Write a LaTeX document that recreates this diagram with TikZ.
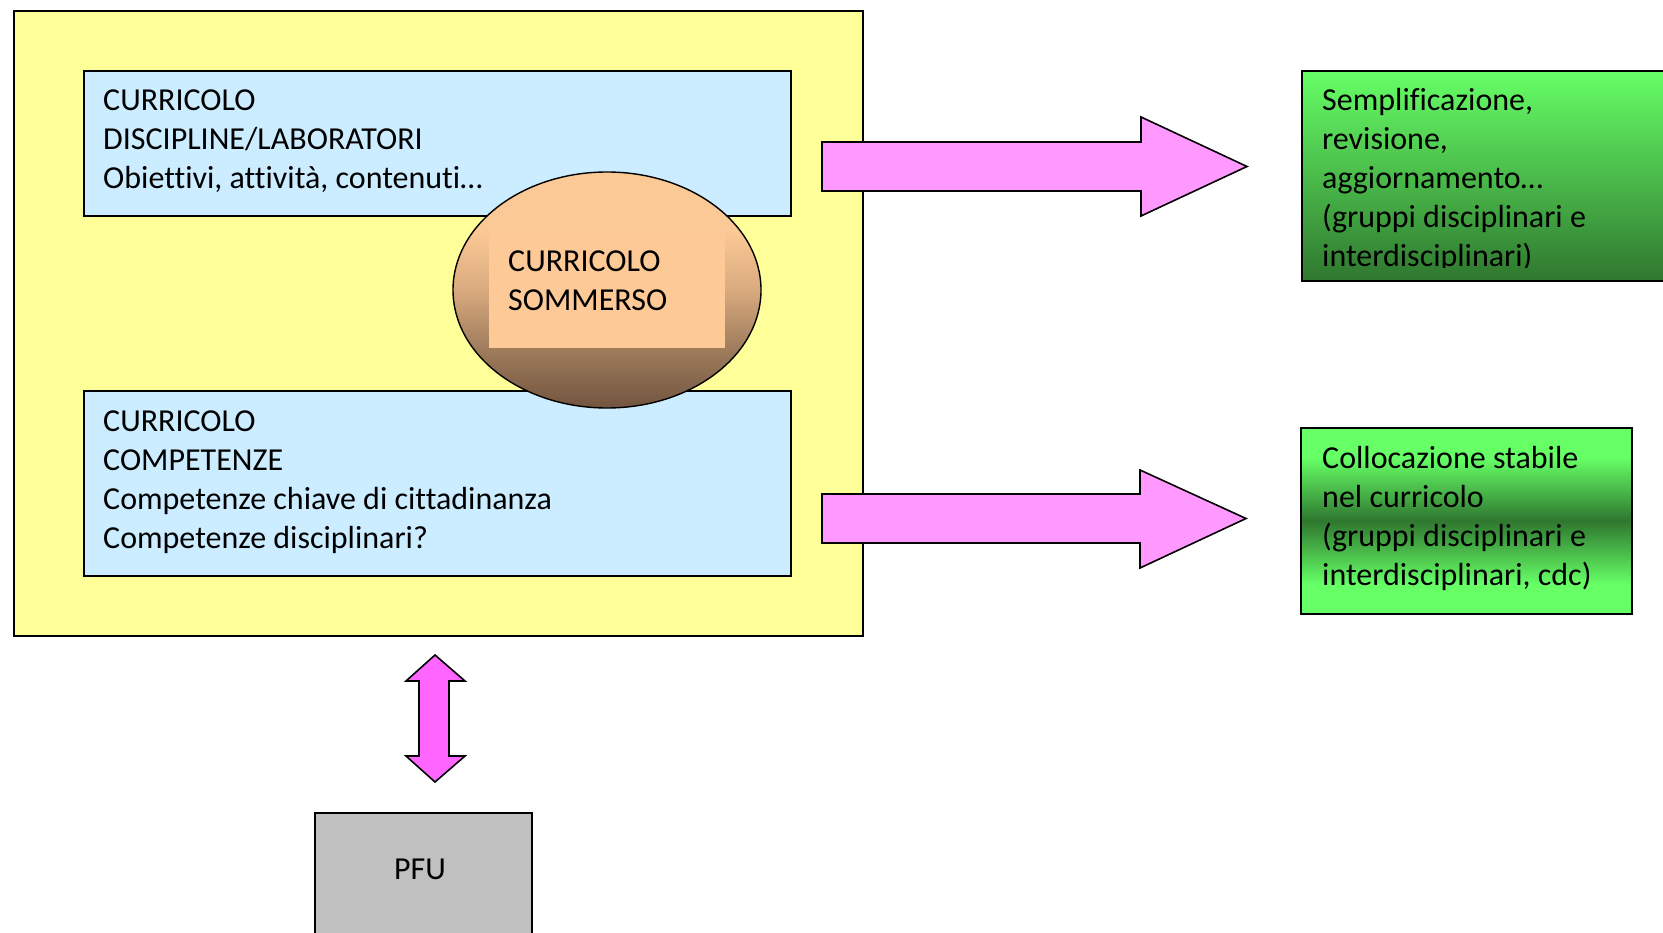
\documentclass[tikz,border=0pt]{standalone}
\usepackage{fontspec}
\setmainfont[Ligatures=NoCommon]{Carlito}
\usetikzlibrary{shapes.geometric}
\definecolor{yel}{HTML}{FFFF99}
\definecolor{blu}{HTML}{CCECFF}
\definecolor{pnk}{HTML}{FF99FF}
\definecolor{mag}{HTML}{FF66FF}
\definecolor{grn}{HTML}{66FF66}
\definecolor{grnd}{HTML}{2F772F}
\definecolor{gry}{HTML}{C0C0C0}
\definecolor{orl}{HTML}{FBC995}
\definecolor{orin}{HTML}{FDCA97}
\definecolor{ormid}{HTML}{D9AA7E}
\definecolor{brnmid}{HTML}{9E7C5C}
\definecolor{brn}{HTML}{735540}
\pgfdeclareverticalshading{ellsh}{100bp}{color(0bp)=(brn); color(25bp)=(brn); color(37.5bp)=(brnmid); color(50bp)=(ormid); color(62.5bp)=(orl); color(100bp)=(orl)}
\pgfdeclareverticalshading{gtwo}{100bp}{color(0bp)=(grn); color(25bp)=(grn); color(33bp)=(grn); color(50bp)=(grnd); color(67bp)=(grn); color(75bp)=(grn); color(100bp)=(grn)}
\begin{document}
\begin{tikzpicture}[x=1pt,y=-1pt,
  box/.style={draw=black,line width=1.6pt,inner sep=0pt,anchor=north west},
  txt/.style={font=\fontsize{32}{39}\selectfont,align=left,inner sep=0pt,anchor=base west},
  blockarrow/.style={draw=black,line width=1.6pt,line join=miter}]
\useasboundingbox (0,0) rectangle (1663,933);
\clip (0,0) rectangle (1663,933);
% main frame
\node[box,fill=yel,minimum width=849pt,minimum height=625pt] (frame) at (13,10) {};
\node[box,fill=blu,minimum width=707pt,minimum height=145pt] (blue1) at (83,70) {};
\node[box,fill=blu,minimum width=707pt,minimum height=185pt] (blue2) at (83,390) {};
% (base anchor = baseline of the last line)
\node[txt] (t1) at (103,189) {CURRICOLO\\DISCIPLINE/LABORATORI\\Obiettivi, attività, contenuti…};
\node[txt] (t2) at (103,548.5) {CURRICOLO\\COMPETENZE\\Competenze chiave di cittadinanza\\Competenze disciplinari?};
% ellipse
\node[draw=black,line width=1.4pt,ellipse,inner sep=0pt,minimum width=308pt,minimum height=236pt,shading=ellsh] (ell) at (607,290) {};
\node[fill=orin,inner sep=0pt,anchor=north west,minimum width=236pt,minimum height=117pt] (inner) at (489,231) {};
\node[txt] (t3) at (508,310.5) {CURRICOLO\\SOMMERSO};
% right arrows
\coordinate (a1s) at (822,166.5);
\coordinate (a1e) at (1247,166.5);
\draw[blockarrow,fill=pnk] (822,142) -- (1141,142) -- (1141,117) -- (a1e) -- (1141,216) -- (1141,191) -- (822,191) -- cycle;
\coordinate (a2s) at (822,518.5);
\coordinate (a2e) at (1246,518.5);
\draw[blockarrow,fill=pnk] (822,494) -- (1140,494) -- (1140,470) -- (a2e) -- (1140,568) -- (1140,543) -- (822,543) -- cycle;
% green boxes
\node[box,top color=grn,bottom color=grnd,minimum width=380pt,minimum height=210pt] (g1) at (1301,70) {};
\begin{scope}
\clip (1301,70) rectangle (1663,268);
\node[txt] (t4) at (1322,266.5) {Semplificazione,\\revisione,\\aggiornamento…\\(gruppi disciplinari e\\interdisciplinari)};
\end{scope}
\node[box,shading=gtwo,minimum width=331pt,minimum height=186pt] (g2) at (1300,427) {};
\node[txt] (t5) at (1322,585.5) {Collocazione stabile\\nel curricolo\\(gruppi disciplinari e\\interdisciplinari, cdc)};
% double arrow
\draw[blockarrow,fill=mag] (435,655) -- (465,681) -- (449,681) -- (449,756) -- (465,756) -- (435,782) -- (406,756) -- (419,756) -- (419,681) -- (406,681) -- cycle;
% PFU
\node[box,fill=gry,minimum width=217pt,minimum height=140pt] (pfu) at (314,812) {};
\node[font=\fontsize{32}{39}\selectfont,inner sep=0pt,anchor=base] (t6) at (420,879.5) {PFU};
\end{tikzpicture}
\end{document}
